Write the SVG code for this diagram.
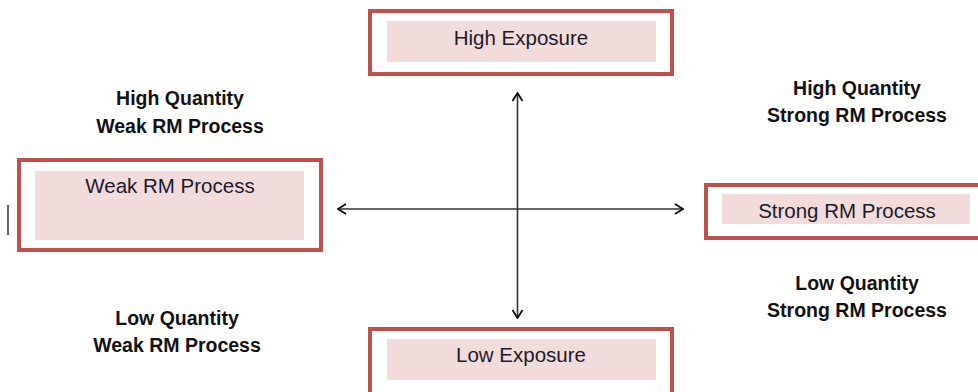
<svg xmlns="http://www.w3.org/2000/svg" width="978" height="392" viewBox="0 0 978 392">
<style>
.outer{fill:#fff;stroke:#C0504D;stroke-width:4}
.inner{fill:#F2DCDB}
.lbl{font-family:"Liberation Sans",Arial,sans-serif;font-size:20.5px;fill:#1a1a2a;text-anchor:middle}
.q{font-family:"Liberation Sans",Arial,sans-serif;font-size:19.5px;font-weight:bold;fill:#111;text-anchor:middle}
.ax{stroke:#333;stroke-width:1.6;fill:none}
</style>
<defs>
<marker id="arr" viewBox="0 0 10 12" refX="9" refY="6" markerWidth="10" markerHeight="12" markerUnits="userSpaceOnUse" orient="auto-start-reverse">
<polyline points="1,1 9,6 1,11" fill="none" stroke="#111" stroke-width="1.8"/>
</marker>
</defs>
<rect width="978" height="392" fill="#fff"/>
<line x1="8" y1="205" x2="8" y2="235" stroke="#000" stroke-width="1.2"/>
<g id="connectors">
<line class="ax" x1="338" y1="209" x2="683" y2="209" marker-start="url(#arr)" marker-end="url(#arr)"/>
<line class="ax" x1="517.5" y1="93" x2="517.5" y2="318" marker-start="url(#arr)" marker-end="url(#arr)"/>
</g>
<g id="high-exposure">
<rect class="outer" x="370" y="11" width="302" height="63"/>
<rect class="inner" x="387" y="21" width="269" height="41"/>
<text class="lbl" x="521" y="45">High Exposure</text>
</g>
<g id="weak-rm">
<rect class="outer" x="19" y="160" width="302" height="90"/>
<rect class="inner" x="35" y="171" width="269" height="69"/>
<text class="lbl" x="170" y="193">Weak RM Process</text>
</g>
<g id="strong-rm">
<rect class="outer" x="706" y="185" width="280" height="53"/>
<rect class="inner" x="722" y="194" width="248" height="30"/>
<text class="lbl" x="847" y="218">Strong RM Process</text>
</g>
<g id="low-exposure">
<rect class="outer" x="370" y="329" width="302" height="70"/>
<rect class="inner" x="387" y="339" width="269" height="41"/>
<text class="lbl" x="521" y="362">Low Exposure</text>
</g>
<g id="q-hw"><text class="q" x="180" y="105">High Quantity</text><text class="q" x="180" y="133">Weak RM Process</text></g>
<g id="q-lw"><text class="q" x="177" y="325">Low Quantity</text><text class="q" x="177" y="352">Weak RM Process</text></g>
<g id="q-hs"><text class="q" x="857" y="95">High Quantity</text><text class="q" x="857" y="122">Strong RM Process</text></g>
<g id="q-ls"><text class="q" x="857" y="290">Low Quantity</text><text class="q" x="857" y="317">Strong RM Process</text></g>
</svg>
